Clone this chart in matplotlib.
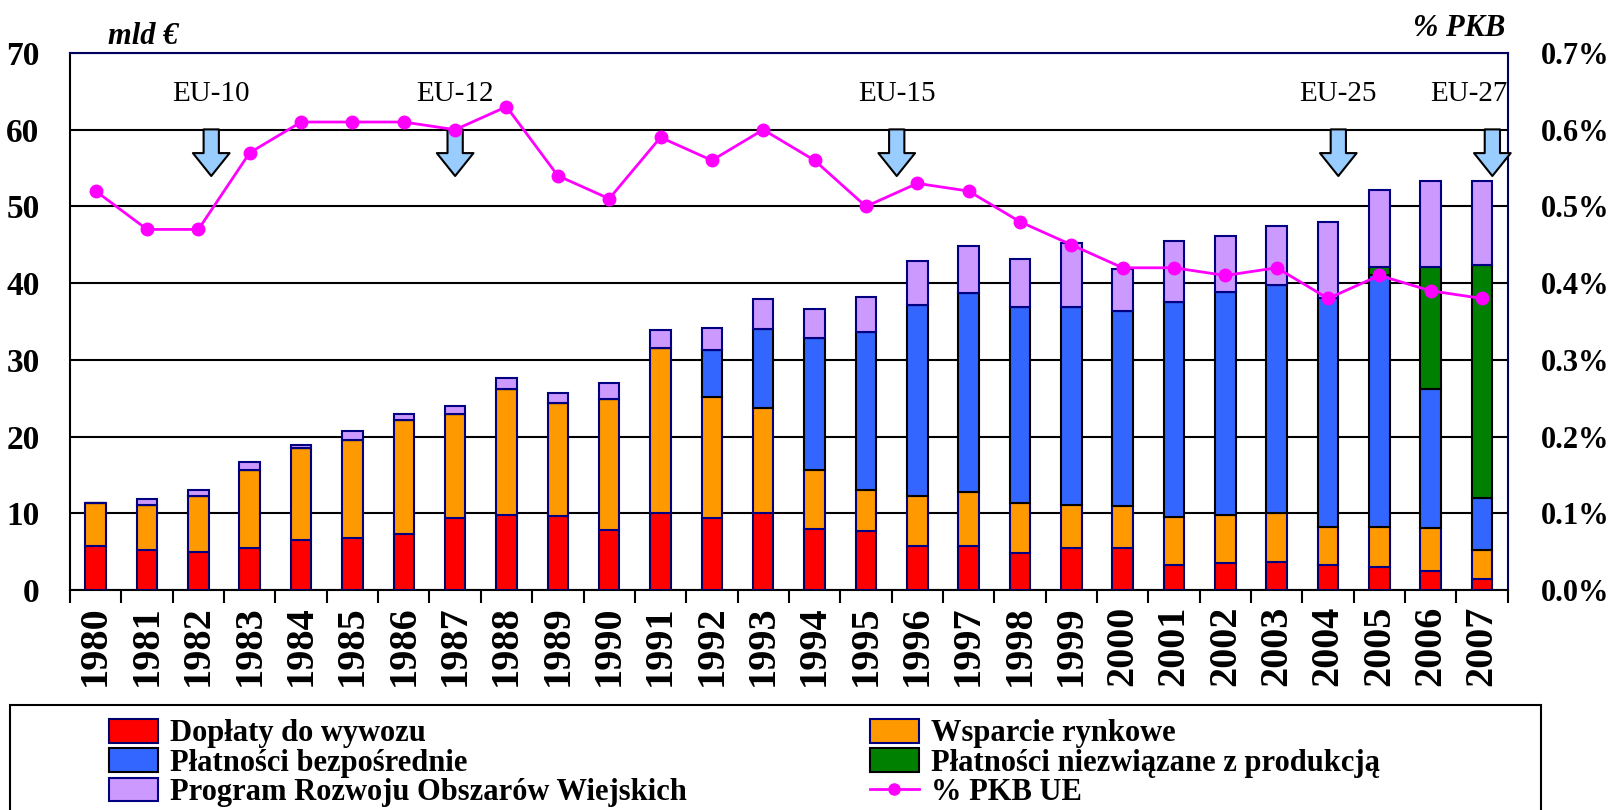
import numpy as np
import matplotlib
matplotlib.use("Agg")
import matplotlib.pyplot as plt
from matplotlib.patches import Rectangle, Patch
from matplotlib.lines import Line2D

years = list(range(1980, 2008))

# segment tops (cumulative, mld EUR)
red_top    = [5.8, 5.2, 5.0, 5.5, 6.5, 6.8, 7.3, 9.35, 9.8, 9.6, 7.8, 10.1, 9.35, 10.0,
              7.95, 7.7, 5.7, 5.7, 4.8, 5.5, 5.5, 3.2, 3.5, 3.7, 3.2, 2.95, 2.5, 1.4]
orange_top = [11.3, 11.1, 12.3, 15.6, 18.5, 19.6, 22.2, 22.9, 26.2, 24.4, 24.9, 31.5, 25.2, 23.7,
              15.65, 13.0, 12.25, 12.8, 11.3, 11.1, 10.9, 9.55, 9.8, 10.0, 8.25, 8.25, 8.05, 5.2]
blue_top   = [11.3, 11.1, 12.3, 15.6, 18.5, 19.6, 22.2, 22.9, 26.2, 24.4, 24.9, 31.5, 31.3, 34.0,
              32.8, 33.6, 37.1, 38.7, 36.9, 36.9, 36.4, 37.6, 38.9, 39.7, 38.0, 41.0, 26.25, 12.05]
green_top  = [11.3, 11.1, 12.3, 15.6, 18.5, 19.6, 22.2, 22.9, 26.2, 24.4, 24.9, 31.5, 31.3, 34.0,
              32.8, 33.6, 37.1, 38.7, 36.9, 36.9, 36.4, 37.6, 38.9, 39.7, 38.0, 42.15, 42.15, 42.4]
purple_top = [11.3, 11.9, 13.1, 16.7, 18.9, 20.7, 22.9, 24.0, 27.6, 25.7, 27.0, 33.9, 34.1, 37.9,
              36.6, 38.2, 42.9, 44.8, 43.2, 45.2, 41.9, 45.5, 46.2, 47.5, 48.0, 52.1, 53.3, 53.3]

pkb = [0.52, 0.47, 0.47, 0.57, 0.61, 0.61, 0.61, 0.60, 0.63, 0.54, 0.51, 0.59, 0.56, 0.60,
       0.56, 0.50, 0.53, 0.52, 0.48, 0.45, 0.42, 0.42, 0.41, 0.42, 0.38, 0.41, 0.39, 0.38]

enlargements = ["EU-10", "EU-12", "EU-15", "EU-25", "EU-27"]
enl_pos = [1982.25, 1987.0, 1995.6, 2004.2, 2007.2]

labels = ["Dopłaty do wywozu", "Wsparcie rynkowe", "Płatności bezpośrednie",
          "Płatności niezwiązane z produkcją", "Program Rozwoju Obszarów Wiejskich"]
colors = ["#FF0000", "#FF9900", "#3366FF", "#008000", "#CC99FF"]
edges = ["#000066", "#000080", "#000000", "#000000", "#000080"]

plt.rcParams["font.family"] = ["Liberation Serif", "DejaVu Serif"]

fig = plt.figure(figsize=(16.1, 8.1), dpi=100)
ax = fig.add_axes([0.0435, 0.2716, 0.893, 0.663])
x = np.arange(len(years))

tops = [red_top, orange_top, blue_top, green_top, purple_top]
bottom = np.zeros(len(years))
for top, c, ec in zip(tops, colors, edges):
    top = np.array(top)
    h = top - bottom
    ax.bar(x, np.where(h > 0.01, h, 0), bottom=bottom, width=0.4, color=c,
           edgecolor=ec, linewidth=1.5, zorder=3)
    bottom = top

ax.set_ylim(0, 70)
ax.set_xlim(-0.5, 27.5)
ax.set_yticks(range(0, 71, 10))
ax.yaxis.grid(True, color="black", linewidth=1.5, zorder=0)
ax.set_axisbelow(True)
ax.tick_params(axis="y", length=0, pad=22, labelsize=24)
for t in ax.get_yticklabels():
    t.set_fontweight("bold")
ax.set_xticks(x)
ax.set_xticklabels([str(y) for y in years], rotation=90, fontsize=29, fontweight="bold")
ax.set_xticks(np.arange(-0.5, 28, 1), minor=True)
ax.tick_params(axis="x", which="major", length=0, pad=11)
ax.tick_params(axis="x", which="minor", length=9, width=1.5, direction="out")
for s in ax.spines.values():
    s.set_color("#000060")
    s.set_linewidth(1.5)
ax.spines["bottom"].set_color("black")
ax.spines["left"].set_color("black")

ax2 = ax.twinx()
ax2.set_ylim(0, 0.007)
ax2.set_yticks(np.arange(0, 0.0071, 0.001))
ax2.set_yticklabels([f"{v:.1f}%" for v in np.arange(0, 0.71, 0.1)], fontsize=22, fontweight="bold")
ax2.tick_params(axis="y", length=0, pad=24)
ax2.plot(x, np.array(pkb) / 100, color="#FF00FF", linewidth=2, marker="o", markersize=9, zorder=5)
for s in ax2.spines.values():
    s.set_visible(False)

# enlargement arrows
for name, pos in zip(enlargements, enl_pos):
    xp = pos - 1980
    ax.annotate("", xy=(xp, 53.6), xytext=(xp, 60.4),
                arrowprops=dict(arrowstyle="simple,head_width=1.2,head_length=0.75,tail_width=0.5",
                                mutation_scale=22, fc="#99CCFF", ec="black", lw=1.5), zorder=6)
    tx = min(xp, 26.75)
    ax.text(tx, 64.6, name, ha="center", va="center", fontsize=21, zorder=6)

fig.text(0.067, 0.955, "mld €", fontsize=22, fontweight="bold", style="italic", va="center")
fig.text(0.935, 0.965, "% PKB", fontsize=22, fontweight="bold", style="italic", va="center", ha="right")

# legend
fig.patches.append(Rectangle((0.006, -0.01), 0.951, 0.14, transform=fig.transFigure,
                             fill=False, edgecolor="black", linewidth=1.5))
handles = [Patch(facecolor=c, edgecolor=ec, linewidth=1.5) for c, ec in zip(colors, edges)]
handles.append(Line2D([0], [0], color="#FF00FF", linewidth=2, marker="o", markersize=8))
order = [0, 2, 4, 1, 3, 5]
all_labels = labels + ["% PKB UE"]
fig.legend([handles[i] for i in order], [all_labels[i] for i in order],
           loc="upper left", bbox_to_anchor=(0.058, 0.131), ncol=2, frameon=False,
           prop=dict(size=22, weight="bold"), handlelength=1.6, handleheight=0.8,
           columnspacing=6.0, labelspacing=0.0, handletextpad=0.4, borderpad=0.0)

fig.savefig("out.png", dpi=100)
